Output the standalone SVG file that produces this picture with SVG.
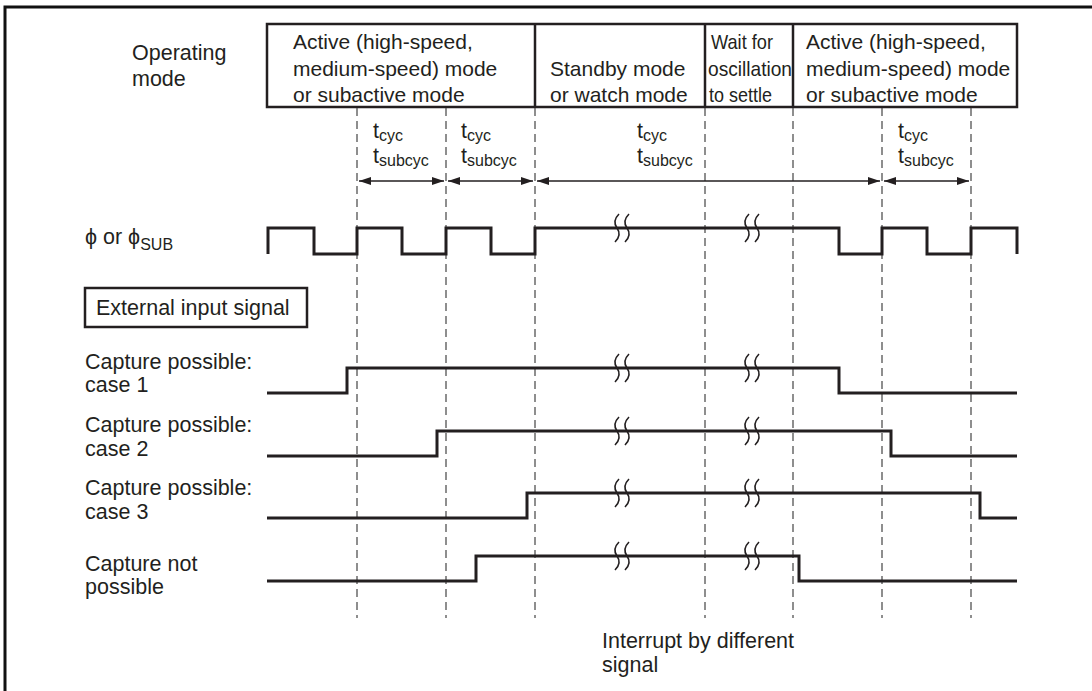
<svg xmlns="http://www.w3.org/2000/svg" width="1092" height="691" viewBox="0 0 1092 691">
<style>
text{font-family:"Liberation Sans",Arial,sans-serif;fill:#231f20}
.m{font-size:21px}
.l{font-size:21.5px}
.sub{font-size:16px}
.box{fill:none;stroke:#231f20;stroke-width:2.5}
.sig{fill:none;stroke:#231f20;stroke-width:3;stroke-linejoin:miter}
.dash{stroke:#444;stroke-width:1.2;stroke-dasharray:8,5}
.arr{stroke:#231f20;stroke-width:1.5;marker-start:url(#ah);marker-end:url(#ah)}
.brk{fill:none;stroke:#231f20;stroke-width:1.6}
</style>
<defs>
<marker id="ah" viewBox="0 0 12 8" refX="12" refY="4" markerWidth="12" markerHeight="8" markerUnits="userSpaceOnUse" orient="auto-start-reverse">
<path d="M0,0 L12,4 L0,8 z" fill="#231f20"/>
</marker>
<path id="bk" d="M2,-14 Q-5,-7 0,0 Q5,7 -2,14" class="brk"/>
</defs>
<rect width="1092" height="691" fill="#fff"/>
<path d="M5,691 V7 H1092" fill="none" stroke="#111" stroke-width="3"/>

<g id="mode-label">
<text class="l" x="132" y="60">Operating</text>
<text class="l" x="132" y="86">mode</text>
</g>

<g id="mode-box">
<rect class="box" x="267" y="24" width="750" height="83"/>
<line class="box" x1="535" y1="24" x2="535" y2="107"/>
<line class="box" x1="705" y1="24" x2="705" y2="107"/>
<line class="box" x1="793" y1="24" x2="793" y2="107"/>
</g>
<g id="mode-active1">
<text class="m" x="293" y="49">Active (high-speed,</text>
<text class="m" x="293" y="76">medium-speed) mode</text>
<text class="m" x="293" y="102">or subactive mode</text>
</g>
<g id="mode-standby">
<text class="m" x="550" y="76">Standby mode</text>
<text class="m" x="550" y="102">or watch mode</text>
</g>
<g id="mode-wait">
<text class="m" x="711" y="49" textLength="62" lengthAdjust="spacingAndGlyphs">Wait for</text>
<text class="m" x="708" y="76" textLength="84" lengthAdjust="spacingAndGlyphs">oscillation</text>
<text class="m" x="709" y="102" textLength="63" lengthAdjust="spacingAndGlyphs">to settle</text>
</g>
<g id="mode-active2">
<text class="m" x="806" y="49">Active (high-speed,</text>
<text class="m" x="806" y="76">medium-speed) mode</text>
<text class="m" x="806" y="102">or subactive mode</text>
</g>

<g id="dashed-lines">
<line class="dash" x1="357" y1="108" x2="357" y2="618"/>
<line class="dash" x1="446" y1="108" x2="446" y2="618"/>
<line class="dash" x1="535" y1="108" x2="535" y2="618"/>
<line class="dash" x1="705" y1="108" x2="705" y2="618"/>
<line class="dash" x1="793" y1="108" x2="793" y2="618"/>
<line class="dash" x1="882" y1="108" x2="882" y2="618"/>
<line class="dash" x1="971" y1="108" x2="971" y2="618"/>
</g>

<g id="connectors">
<line class="arr" x1="359" y1="181" x2="444" y2="181"/>
<line class="arr" x1="448" y1="181" x2="533" y2="181"/>
<line class="arr" x1="537" y1="181" x2="880" y2="181"/>
<line class="arr" x1="884" y1="181" x2="969" y2="181"/>
</g>

<g id="cycle-labels">
<text class="l" x="373" y="138">t<tspan class="sub" dy="3">cyc</tspan></text>
<text class="l" x="373" y="163">t<tspan class="sub" dy="3">subcyc</tspan></text>
<text class="l" x="461" y="138">t<tspan class="sub" dy="3">cyc</tspan></text>
<text class="l" x="461" y="163">t<tspan class="sub" dy="3">subcyc</tspan></text>
<text class="l" x="637" y="138">t<tspan class="sub" dy="3">cyc</tspan></text>
<text class="l" x="637" y="163">t<tspan class="sub" dy="3">subcyc</tspan></text>
<text class="l" x="898" y="138">t<tspan class="sub" dy="3">cyc</tspan></text>
<text class="l" x="898" y="163">t<tspan class="sub" dy="3">subcyc</tspan></text>
</g>

<g id="clock">
<text class="l" x="85" y="244">ϕ or ϕ<tspan class="sub" font-size="17" dy="6">SUB</tspan></text>
<path class="sig" d="M268,254 V228 H314 V254 H357 V228 H402 V254 H446 V228 H491 V254 H535 V228 H839 V254 H882 V228 H927 V254 H971 V228 H1017 V254"/>
<use href="#bk" x="617" y="228"/><use href="#bk" x="627" y="228"/>
<use href="#bk" x="747" y="228"/><use href="#bk" x="757" y="228"/>
</g>

<g id="external-input">
<rect class="box" x="85" y="288" width="222" height="39"/>
<text class="l" x="96" y="315">External input signal</text>
</g>

<g id="case1">
<text class="l" x="85" y="369">Capture possible:</text>
<text class="l" x="85" y="392">case 1</text>
<path class="sig" d="M267,393 H347 V368 H839 V393 H1017"/>
<use href="#bk" x="617" y="368"/><use href="#bk" x="627" y="368"/>
<use href="#bk" x="747" y="368"/><use href="#bk" x="757" y="368"/>
</g>

<g id="case2">
<text class="l" x="85" y="432">Capture possible:</text>
<text class="l" x="85" y="456">case 2</text>
<path class="sig" d="M267,456 H437 V431 H891 V456 H1017"/>
<use href="#bk" x="617" y="431"/><use href="#bk" x="627" y="431"/>
<use href="#bk" x="747" y="431"/><use href="#bk" x="757" y="431"/>
</g>

<g id="case3">
<text class="l" x="85" y="495">Capture possible:</text>
<text class="l" x="85" y="519">case 3</text>
<path class="sig" d="M267,518 H527 V493 H980 V518 H1017"/>
<use href="#bk" x="617" y="493"/><use href="#bk" x="627" y="493"/>
<use href="#bk" x="747" y="493"/><use href="#bk" x="757" y="493"/>
</g>

<g id="not-possible">
<text class="l" x="85" y="571">Capture not</text>
<text class="l" x="85" y="594">possible</text>
<path class="sig" d="M267,581 H476 V556 H799 V581 H1017"/>
<use href="#bk" x="617" y="556"/><use href="#bk" x="627" y="556"/>
<use href="#bk" x="747" y="556"/><use href="#bk" x="757" y="556"/>
</g>

<g id="interrupt-note">
<text class="l" x="602" y="648">Interrupt by different</text>
<text class="l" x="602" y="672">signal</text>
</g>
</svg>
